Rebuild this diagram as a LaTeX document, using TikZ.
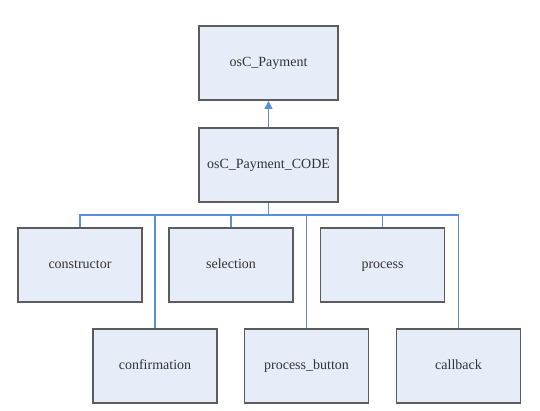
\documentclass[tikz,border=0pt]{standalone}
\usepackage{fontspec}
\setmainfont{Liberation Serif}
\usetikzlibrary{arrows.meta}
\definecolor{boxfill}{HTML}{E7EDF8}
\definecolor{boxline}{HTML}{5C5C5C}
\definecolor{conn}{HTML}{5B8ED8}
\definecolor{txt}{HTML}{333333}
\begin{document}
\begin{tikzpicture}[x=1pt,y=-1pt,
  cls/.style={draw=boxline, fill=boxfill, line width=1.8pt, inner sep=0pt,
    minimum width=124pt, minimum height=74pt, text height=10pt, text depth=3pt,
    text=txt, font=\fontsize{14}{16}\selectfont},
  wide/.style={minimum width=139pt},
  link/.style={draw=conn, line width=1.2pt}]
\useasboundingbox (0,0) rectangle (540,411);
\node[cls,wide] (pay) at (268.5,63) {osC\_Payment};
\node[cls,wide] (code) at (268.5,165) {osC\_Payment\_CODE};
\node[cls] (constructor) at (80,265) {constructor};
\node[cls] (selection) at (231,265) {selection};
\node[cls] (process) at (382.5,265) {process};
\node[cls] (confirmation) at (155,366) {confirmation};
\node[cls] (pbutton) at (306.5,366) {process\_button};
\node[cls] (callback) at (458.5,366) {callback};
\coordinate (bus) at (268.5,215);
\draw[link,-{Triangle[length=8pt,width=8pt]}] (code.north) -- (pay.south);
\draw[link] (code.south) -- (bus);
\foreach \c in {constructor,selection,process,confirmation,pbutton,callback}
  \draw[link] (\c.north) |- (bus);
\end{tikzpicture}
\end{document}
